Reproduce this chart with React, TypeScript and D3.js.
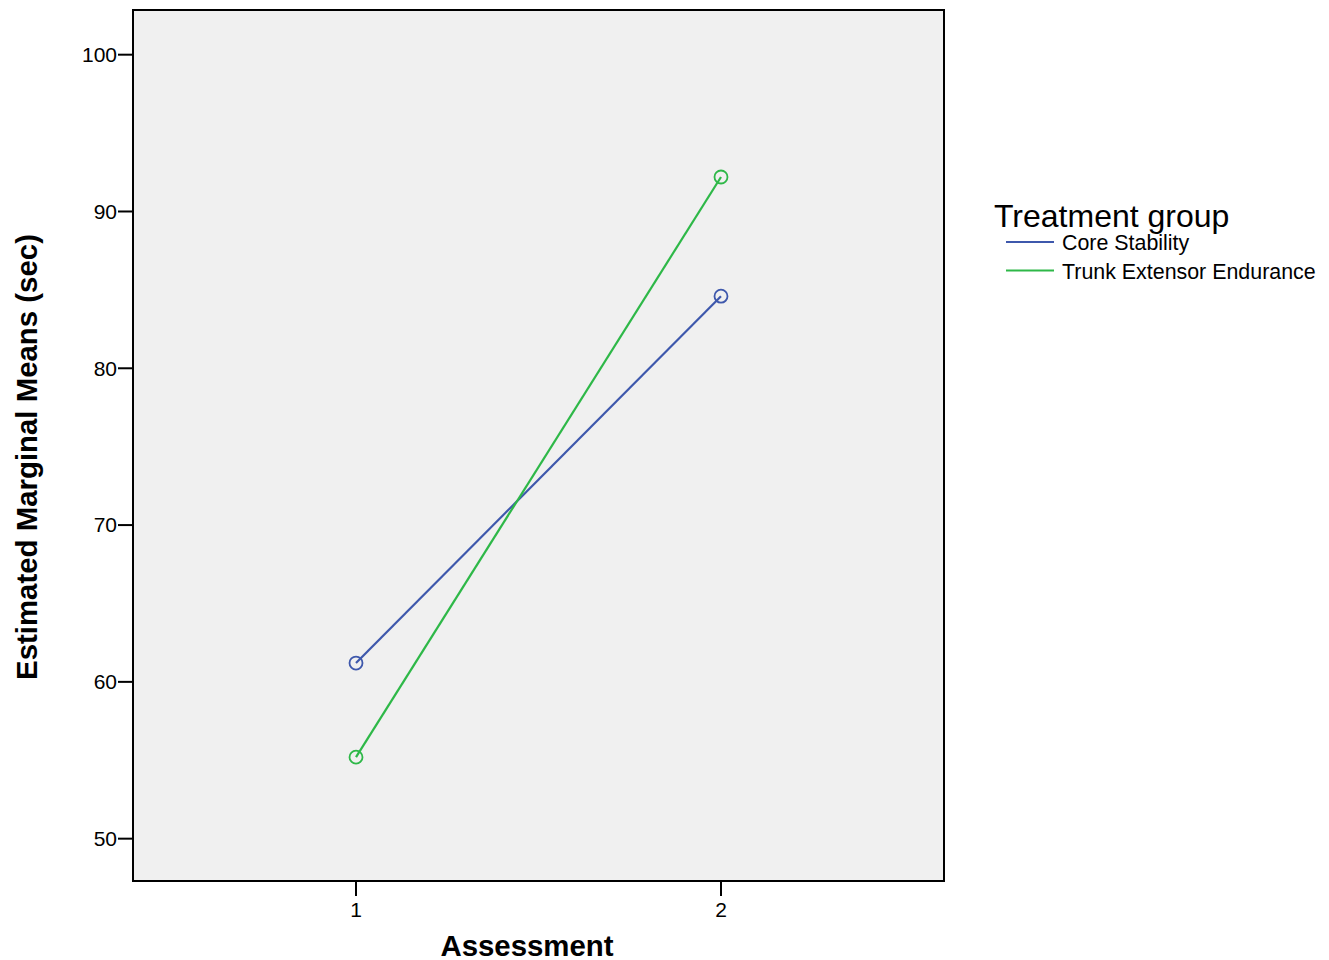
import * as d3 from "d3";

const assessments = [1, 2];
const groups = ["Core Stability", "Trunk Extensor Endurance"];
const colors = ["#3e58ac", "#2eb848"];
const coreValues = [61.2, 84.6];
const trunkValues = [55.2, 92.2];
const yTicks = [50, 60, 70, 80, 90, 100];

const series = [coreValues, trunkValues];

export default function App() {
    const width = 1329;
    const height = 960;
    const left = 133, right = 944, top = 10, bottom = 881;
    const font = "'Liberation Sans', Arial, sans-serif";

    const x = d3.scaleLinear([0.389, 2.611], [left, right]);
    const y = d3.scaleLinear([47.3, 102.85], [bottom, top]);
    const line = d3.line<number>((d, i) => x(assessments[i]), (d) => y(d));

    return (
        <svg width={width} height={height} style={{ position: "absolute", left: 0, top: 0 }} fontFamily={font}>
            <rect x={0} y={0} width={width} height={height} fill="white" />
            <rect x={left} y={top} width={right - left} height={bottom - top} fill="#f0f0f0" />
            {series.map((s, k) => (
                <g key={groups[k]}>
                    <path d={line(s) || ""} fill="none" stroke={colors[k]} strokeWidth={2.2} />
                    {s.map((v, i) => (
                        <circle key={i} cx={x(assessments[i])} cy={y(v)} r={6.5} fill="none" stroke={colors[k]} strokeWidth={1.8} />
                    ))}
                </g>
            ))}
            <rect x={left} y={top} width={right - left} height={bottom - top} fill="none" stroke="black" strokeWidth={2} />
            {/* y axis */}
            {yTicks.map((t) => (
                <g key={t} transform={`translate(${left},${y(t)})`}>
                    <line x1={-15} x2={0} stroke="black" strokeWidth={2} />
                    <text x={-16} dy="0.35em" textAnchor="end" fontSize={21} fill="black">{t}</text>
                </g>
            ))}
            {/* x axis */}
            {assessments.map((a) => (
                <g key={a} transform={`translate(${x(a)},${bottom})`}>
                    <line y1={0} y2={15} stroke="black" strokeWidth={2} />
                    <text y={36} textAnchor="middle" fontSize={21} fill="black">{a}</text>
                </g>
            ))}
            <text x={527} y={956} textAnchor="middle" fontSize={29.4} fontWeight="bold" fill="black">Assessment</text>
            <text transform={`translate(37,457) rotate(-90)`} textAnchor="middle" fontSize={29.4} fontWeight="bold" fill="black">
                Estimated Marginal Means (sec)
            </text>
            {/* legend */}
            <text x={994} y={227} fontSize={32} fill="black">Treatment group</text>
            {groups.map((g, k) => (
                <g key={g} transform={`translate(1006,${242 + k * 28.5})`}>
                    <line x1={0} x2={48} stroke={colors[k]} strokeWidth={2.2} />
                    <text x={56} y={8} fontSize={21.4} fill="black">{g}</text>
                </g>
            ))}
        </svg>
    );
}
